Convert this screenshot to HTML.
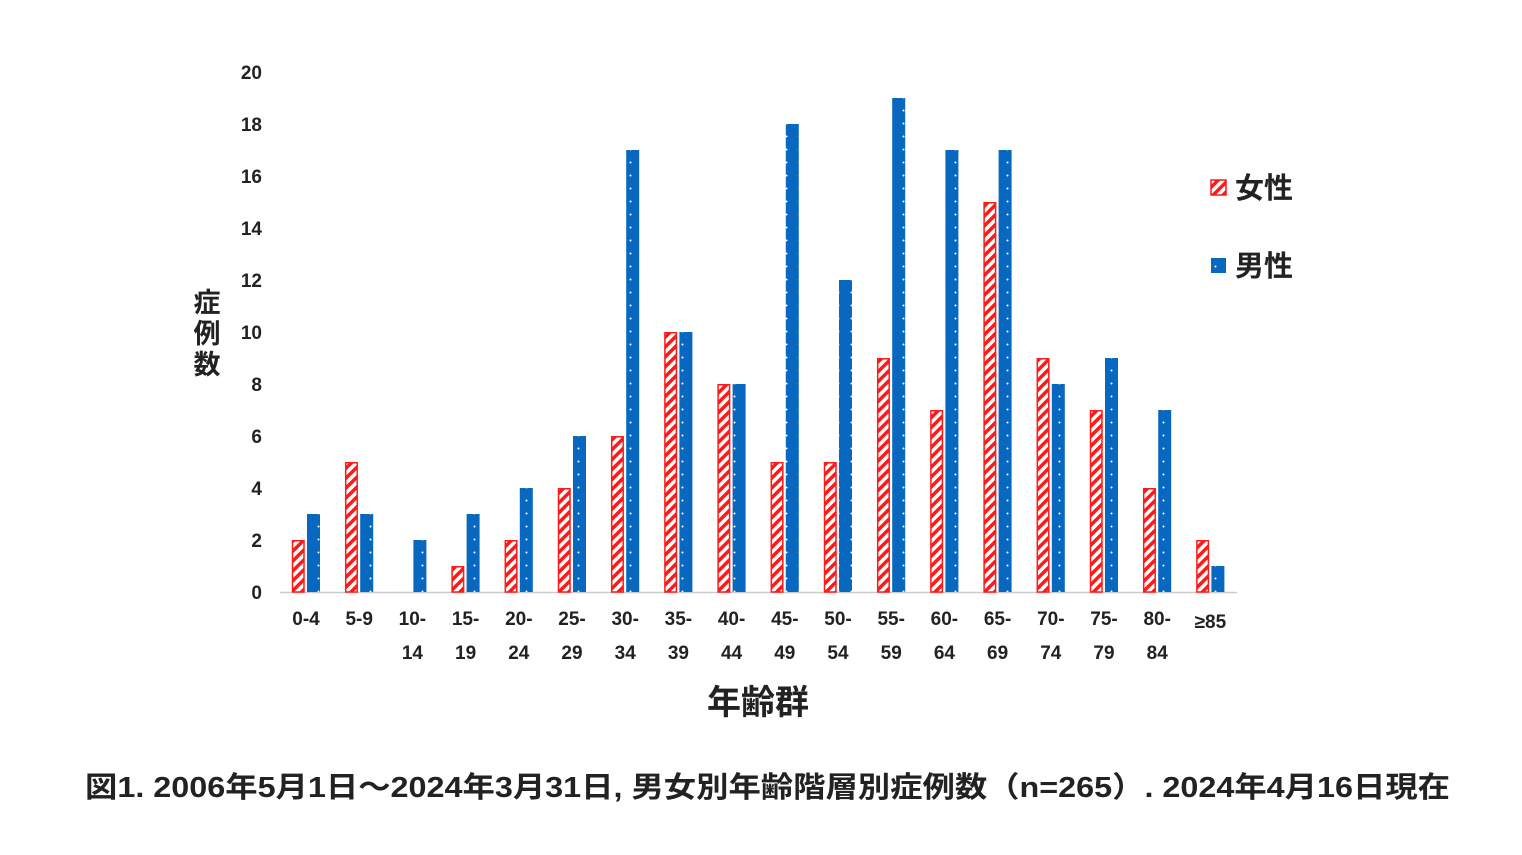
<!DOCTYPE html>
<html><head><meta charset="utf-8"><style>
body{margin:0;background:#fff}
svg{display:block}
text{font-family:"Liberation Sans","Noto Sans CJK JP",sans-serif;font-weight:bold;fill:#222}
</style></head><body>
<svg width="1522" height="855" xmlns="http://www.w3.org/2000/svg">
<defs>
<pattern id="hat" width="7" height="7" patternUnits="userSpaceOnUse" patternTransform="rotate(-45)">
<rect width="7" height="7" fill="#fff"/><rect width="7" height="3.5" fill="#ff1a1a"/></pattern>
<pattern id="dot" width="13" height="13" patternUnits="userSpaceOnUse">
<rect width="13" height="13" fill="#0868c0"/><circle cx="6.5" cy="6.5" r="1" fill="#fff"/></pattern>
</defs>
<g font-size="19" text-anchor="end">
<text x="262" y="599">0</text><text x="262" y="547">2</text><text x="262" y="495">4</text><text x="262" y="443">6</text><text x="262" y="391">8</text><text x="262" y="339">10</text><text x="262" y="287">12</text><text x="262" y="235">14</text><text x="262" y="183">16</text><text x="262" y="131">18</text><text x="262" y="79">20</text>
</g>
<g font-size="27" text-anchor="middle"><text x="207" y="312">症</text><text x="207" y="343">例</text><text x="207" y="374">数</text></g>
<line x1="280" y1="592.5" x2="1237" y2="592.5" stroke="#ccc" stroke-width="1.5"/>
<g id="bars"></g>
<g font-size="19" text-anchor="middle" id="lbl"></g>
<text x="758" y="714" font-size="34" text-anchor="middle">年齢群</text>
<rect x="1211" y="180" width="15" height="15" fill="url(#hat)" stroke="#ff1a1a" stroke-width="1.5"/>
<text x="1235" y="198" font-size="29">女性</text>
<rect x="1211" y="258" width="15" height="15" fill="url(#dot)"/>
<text x="1235" y="276" font-size="29">男性</text>
<text x="85" y="797" font-size="29" textLength="1365" lengthAdjust="spacingAndGlyphs">図1. 2006年5月1日～2024年3月31日, 男女別年齢階層別症例数（n=265）. 2024年4月16日現在</text>
</svg>
<script>
var f=[2,5,0,1,2,4,6,10,8,5,5,9,7,15,9,7,4,2],m=[3,3,2,3,4,6,17,10,8,18,12,19,17,17,8,9,7,1];
var l1=["0-4","5-9","10-","15-","20-","25-","30-","35-","40-","45-","50-","55-","60-","65-","70-","75-","80-","≥85"],
l2=["","","14","19","24","29","34","39","44","49","54","59","64","69","74","79","84",""];
var ns="http://www.w3.org/2000/svg",b=document.getElementById("bars"),L=document.getElementById("lbl");
function el(t,a,p){var e=document.createElementNS(ns,t);for(var k in a)e.setAttribute(k,a[k]);p.appendChild(e);return e;}
for(var i=0;i<18;i++){var c=306+i*53.2;
if(f[i])el("rect",{x:c-13.5,y:592-f[i]*26+0.75,width:11.5,height:f[i]*26-0.75,fill:"url(#hat)",stroke:"#ff1a1a","stroke-width":1.5},b);
el("rect",{x:c+1,y:592-m[i]*26,width:13,height:m[i]*26,fill:"url(#dot)"},b);
var t=el("text",{x:c,y:i==17?628:625},L);t.textContent=l1[i];
if(l2[i]){t=el("text",{x:c,y:659},L);t.textContent=l2[i];}}
</script>
</body></html>
